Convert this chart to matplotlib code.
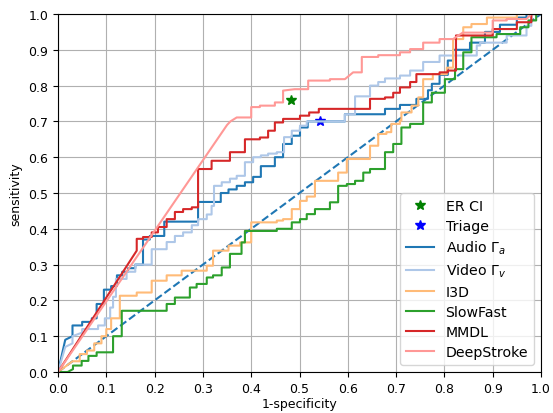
import matplotlib
matplotlib.use("Agg")
import matplotlib.pyplot as plt

# ROC vertices (1-specificity, sensitivity)
audio_fpr = [0, 0.015, 0.03, 0.03, 0.05, 0.05, 0.07, 0.07, 0.08, 0.08, 0.095, 0.095,
             0.11, 0.11, 0.122, 0.122, 0.133, 0.133, 0.145, 0.145, 0.16, 0.16, 0.176, 0.176,
             0.19, 0.19, 0.22, 0.22, 0.29, 0.29, 0.337, 0.337, 0.353, 0.353, 0.37, 0.37,
             0.387, 0.387, 0.404, 0.404, 0.42, 0.42, 0.449, 0.449, 0.466, 0.466, 0.484, 0.484,
             0.501, 0.501, 0.517, 0.517, 0.594, 0.594, 0.677, 0.677, 0.708, 0.708, 0.742, 0.742,
             0.766, 0.766, 0.774, 0.774, 0.79, 0.79, 0.807, 0.807, 0.818, 0.818, 0.853, 0.853,
             0.884, 0.884, 0.915, 0.915, 0.95, 0.95, 0.97, 0.97, 1.0]
audio_tpr = [0, 0.09, 0.10, 0.13, 0.13, 0.14, 0.14, 0.15, 0.15, 0.19, 0.19, 0.23,
             0.23, 0.24, 0.24, 0.27, 0.27, 0.28, 0.28, 0.29, 0.29, 0.30, 0.30, 0.37,
             0.37, 0.38, 0.38, 0.42, 0.42, 0.475, 0.475, 0.50, 0.50, 0.51, 0.51, 0.52,
             0.52, 0.53, 0.53, 0.545, 0.545, 0.575, 0.575, 0.60, 0.60, 0.637, 0.637, 0.66,
             0.66, 0.683, 0.683, 0.70, 0.70, 0.72, 0.72, 0.735, 0.735, 0.746, 0.746, 0.763,
             0.763, 0.787, 0.787, 0.805, 0.805, 0.83, 0.83, 0.87, 0.87, 0.90, 0.90, 0.92,
             0.92, 0.95, 0.95, 0.97, 0.97, 0.99, 0.99, 1.0, 1.0]

video_fpr = [0, 0.015, 0.03, 0.03, 0.05, 0.05, 0.083, 0.083, 0.097, 0.097, 0.108, 0.108,
             0.114, 0.114, 0.12, 0.12, 0.142, 0.142, 0.16, 0.16, 0.194, 0.194, 0.225, 0.225,
             0.242, 0.242, 0.259, 0.259, 0.277, 0.277, 0.29, 0.29, 0.308, 0.308, 0.318, 0.318,
             0.323, 0.323, 0.339, 0.339, 0.356, 0.356, 0.37, 0.37, 0.387, 0.387, 0.404, 0.404,
             0.42, 0.42, 0.435, 0.435, 0.453, 0.453, 0.468, 0.468, 0.484, 0.484, 0.501, 0.501,
             0.515, 0.515, 0.594, 0.594, 0.615, 0.615, 0.646, 0.646, 0.663, 0.663, 0.677, 0.677,
             0.708, 0.708, 0.729, 0.729, 0.756, 0.756, 0.79, 0.79, 0.867, 0.867, 0.874, 0.874,
             0.929, 0.929, 0.97, 0.97, 0.98, 0.98, 1.0]
video_tpr = [0, 0.07, 0.08, 0.10, 0.11, 0.12, 0.12, 0.13, 0.13, 0.15, 0.15, 0.18,
             0.18, 0.21, 0.21, 0.26, 0.26, 0.28, 0.28, 0.30, 0.30, 0.343, 0.343, 0.363,
             0.363, 0.38, 0.38, 0.39, 0.39, 0.41, 0.41, 0.427, 0.427, 0.44, 0.44, 0.464,
             0.464, 0.52, 0.52, 0.53, 0.53, 0.54, 0.54, 0.548, 0.548, 0.586, 0.586, 0.60,
             0.60, 0.605, 0.605, 0.61, 0.61, 0.614, 0.614, 0.656, 0.656, 0.674, 0.674, 0.688,
             0.688, 0.70, 0.70, 0.72, 0.72, 0.77, 0.77, 0.80, 0.80, 0.81, 0.81, 0.82,
             0.82, 0.828, 0.828, 0.842, 0.842, 0.866, 0.866, 0.884, 0.884, 0.912, 0.912, 0.92,
             0.92, 0.94, 0.94, 0.967, 0.967, 1.0, 1.0]

i3d_fpr = [0, 0.02, 0.03, 0.045, 0.045, 0.06, 0.06, 0.075, 0.075, 0.09, 0.09, 0.10,
           0.10, 0.11, 0.11, 0.128, 0.128, 0.163, 0.163, 0.194, 0.194, 0.225, 0.225, 0.256,
           0.256, 0.308, 0.308, 0.321, 0.321, 0.353, 0.353, 0.377, 0.377, 0.40, 0.40, 0.453,
           0.453, 0.466, 0.466, 0.484, 0.484, 0.501, 0.501, 0.515, 0.515, 0.532, 0.532, 0.58,
           0.58, 0.598, 0.598, 0.646, 0.646, 0.663, 0.663, 0.68, 0.68, 0.69, 0.69, 0.708,
           0.708, 0.711, 0.711, 0.732, 0.732, 0.746, 0.746, 0.756, 0.756, 0.776, 0.776, 0.805,
           0.805, 0.818, 0.818, 0.839, 0.839, 0.856, 0.856, 0.888, 0.888, 0.95, 0.95, 1.0]
i3d_tpr = [0, 0.02, 0.03, 0.03, 0.05, 0.05, 0.06, 0.06, 0.08, 0.08, 0.10, 0.10,
           0.12, 0.12, 0.15, 0.15, 0.213, 0.213, 0.222, 0.222, 0.255, 0.255, 0.27, 0.27,
           0.283, 0.283, 0.297, 0.297, 0.339, 0.339, 0.353, 0.353, 0.362, 0.362, 0.418, 0.418,
           0.423, 0.423, 0.427, 0.427, 0.455, 0.455, 0.478, 0.478, 0.49, 0.49, 0.534, 0.534,
           0.557, 0.557, 0.595, 0.595, 0.632, 0.632, 0.665, 0.665, 0.67, 0.67, 0.693, 0.693,
           0.702, 0.702, 0.725, 0.725, 0.744, 0.744, 0.767, 0.767, 0.818, 0.818, 0.832, 0.832,
           0.85, 0.85, 0.93, 0.93, 0.963, 0.963, 0.972, 0.972, 0.99, 0.99, 1.0, 1.0]

slowfast_fpr = [0, 0.02, 0.031, 0.031, 0.049, 0.049, 0.063, 0.063, 0.08, 0.08, 0.114, 0.114,
                0.132, 0.132, 0.225, 0.225, 0.242, 0.242, 0.273, 0.273, 0.287, 0.287, 0.308, 0.308,
                0.321, 0.321, 0.339, 0.339, 0.356, 0.356, 0.38, 0.38, 0.387, 0.387, 0.453, 0.453,
                0.484, 0.484, 0.501, 0.501, 0.515, 0.515, 0.532, 0.532, 0.563, 0.563, 0.58, 0.58,
                0.598, 0.598, 0.615, 0.615, 0.632, 0.632, 0.646, 0.646, 0.677, 0.677, 0.694, 0.694,
                0.711, 0.711, 0.729, 0.729, 0.756, 0.756, 0.774, 0.774, 0.801, 0.801, 0.822, 0.822,
                0.839, 0.839, 0.856, 0.856, 0.908, 0.908, 0.957, 0.957, 0.974, 0.974, 0.99, 0.99, 1.0]
slowfast_tpr = [0, 0.0, 0.008, 0.018, 0.018, 0.031, 0.031, 0.045, 0.045, 0.055, 0.055, 0.10,
                0.10, 0.171, 0.171, 0.19, 0.19, 0.208, 0.208, 0.236, 0.236, 0.246, 0.246, 0.264,
                0.264, 0.27, 0.27, 0.292, 0.292, 0.33, 0.33, 0.362, 0.362, 0.394, 0.394, 0.40,
                0.40, 0.418, 0.418, 0.427, 0.427, 0.441, 0.441, 0.455, 0.455, 0.474, 0.474, 0.52,
                0.52, 0.525, 0.525, 0.534, 0.534, 0.557, 0.557, 0.567, 0.567, 0.614, 0.614, 0.637,
                0.637, 0.683, 0.683, 0.693, 0.693, 0.753, 0.753, 0.78, 0.78, 0.818, 0.818, 0.846,
                0.846, 0.893, 0.893, 0.935, 0.935, 0.944, 0.944, 0.963, 0.963, 0.982, 0.982, 1.0, 1.0]

mmdl_fpr = [0, 0.163, 0.163, 0.176, 0.176, 0.194, 0.194, 0.207, 0.207, 0.225, 0.225, 0.242,
            0.242, 0.259, 0.259, 0.277, 0.277, 0.29, 0.29, 0.318, 0.318, 0.356, 0.356, 0.387,
            0.387, 0.418, 0.418, 0.435, 0.435, 0.449, 0.449, 0.466, 0.466, 0.501, 0.501, 0.52,
            0.52, 0.54, 0.54, 0.646, 0.646, 0.677, 0.677, 0.694, 0.694, 0.708, 0.708, 0.729,
            0.729, 0.742, 0.742, 0.79, 0.79, 0.807, 0.807, 0.824, 0.824, 0.90, 0.90, 0.95,
            0.95, 0.98, 0.98, 1.0]
mmdl_tpr = [0, 0.339, 0.372, 0.372, 0.377, 0.377, 0.39, 0.39, 0.405, 0.405, 0.427, 0.427,
            0.447, 0.447, 0.455, 0.455, 0.46, 0.46, 0.567, 0.567, 0.59, 0.59, 0.614, 0.614,
            0.65, 0.65, 0.655, 0.655, 0.674, 0.674, 0.697, 0.697, 0.707, 0.707, 0.716, 0.716,
            0.725, 0.725, 0.735, 0.735, 0.763, 0.763, 0.767, 0.767, 0.78, 0.78, 0.795, 0.795,
            0.81, 0.81, 0.832, 0.832, 0.837, 0.837, 0.842, 0.842, 0.94, 0.94, 0.958, 0.958,
            0.977, 0.977, 1.0, 1.0]

deepstroke_fpr = [0, 0.35, 0.357, 0.37, 0.40, 0.40, 0.418, 0.418, 0.449, 0.449, 0.466, 0.466,
                  0.49, 0.518, 0.518, 0.563, 0.563, 0.594, 0.611, 0.629, 0.629, 0.663, 0.663, 0.708,
                  0.708, 0.729, 0.729, 0.756, 0.756, 0.79, 0.79, 0.818, 0.838, 0.90, 0.90, 0.929,
                  0.929, 0.97, 0.98, 1.0]
deepstroke_tpr = [0, 0.69, 0.70, 0.711, 0.711, 0.74, 0.74, 0.744, 0.744, 0.753, 0.753, 0.786,
                  0.79, 0.79, 0.814, 0.814, 0.818, 0.818, 0.837, 0.837, 0.88, 0.88, 0.885, 0.885,
                  0.893, 0.893, 0.902, 0.902, 0.92, 0.92, 0.93, 0.93, 0.948, 0.948, 0.982, 0.982,
                  0.986, 0.986, 1.0, 1.0]

er_ci = (0.483, 0.76)
triage = (0.542, 0.70)

fig = plt.figure(figsize=(5.53, 4.14), dpi=100)
ax = fig.add_axes([58 / 553, 1 - 373 / 414, 483 / 553, 358 / 414])

ax.plot([0, 1], [0, 1], "--", color="tab:blue")
ax.plot(er_ci[0], er_ci[1], "*", color="green", markersize=7, label="ER CI")
ax.plot(triage[0], triage[1], "*", color="blue", markersize=7, label="Triage")

cmap = plt.get_cmap("tab20")
ax.plot(audio_fpr, audio_tpr, color=cmap(0), label=r"Audio $\Gamma_a$")
ax.plot(video_fpr, video_tpr, color=cmap(1), label=r"Video $\Gamma_v$")
ax.plot(i3d_fpr, i3d_tpr, color=cmap(3), label="I3D")
ax.plot(slowfast_fpr, slowfast_tpr, color=cmap(4), label="SlowFast")
ax.plot(mmdl_fpr, mmdl_tpr, color=cmap(6), label="MMDL")
ax.plot(deepstroke_fpr, deepstroke_tpr, color=cmap(7), label="DeepStroke")

ax.set_xlim(0, 1)
ax.set_ylim(0, 1)
ax.set_xticks([i / 10 for i in range(11)])
ax.set_yticks([i / 10 for i in range(11)])
ax.tick_params(labelsize=9)
ax.set_xlabel("1-specificity", fontsize=9, labelpad=2)
ax.set_ylabel("sensitivity", fontsize=9, labelpad=4)
ax.grid(True)
ax.legend(loc="lower right", fontsize=10.2, labelspacing=0.42)

fig.savefig("out.png", dpi=100)
